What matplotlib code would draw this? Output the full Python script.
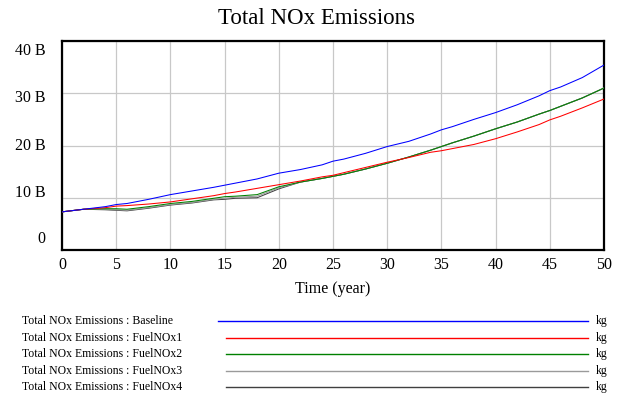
import matplotlib.pyplot as plt
from matplotlib.lines import Line2D
import numpy as np

plt.rcParams['font.family'] = ['Liberation Serif', 'DejaVu Serif']

years = [0, 2, 4, 5, 6, 8, 10, 12, 14, 15, 16, 18, 20, 22, 24, 25, 26, 28, 30,
         32, 34, 35, 36, 38, 40, 42, 44, 45, 46, 48, 50]

# Total NOx emissions, billions of kg
baseline = [7.3, 7.8, 8.3, 8.7, 8.9, 9.7, 10.6, 11.3, 12.0, 12.4, 12.8, 13.6, 14.7,
            15.4, 16.3, 17.0, 17.4, 18.5, 19.8, 20.8, 22.2, 23.0, 23.6, 25.0, 26.3,
            27.8, 29.5, 30.5, 31.2, 33.0, 35.4]
fuelnox1 = [7.3, 7.8, 8.1, 8.4, 8.5, 8.8, 9.2, 9.8, 10.4, 10.8, 11.1, 11.8, 12.5,
            13.2, 14.0, 14.3, 14.8, 15.8, 16.8, 17.7, 18.7, 19.0, 19.4, 20.2, 21.3,
            22.6, 24.0, 24.9, 25.6, 27.2, 28.9]
fuelnox2 = [7.3, 7.8, 7.9, 7.9, 7.8, 8.3, 8.9, 9.3, 9.9, 10.2, 10.3, 10.6, 12.1,
            13.0, 13.7, 14.1, 14.5, 15.5, 16.6, 17.8, 19.1, 19.8, 20.5, 21.8, 23.2,
            24.5, 26.0, 26.7, 27.5, 29.1, 31.0]
fuelnox3 = [7.3, 7.8, 7.8, 7.7, 7.6, 8.1, 8.7, 9.1, 9.7, 9.9, 10.1, 10.3, 11.9,
            13.0, 13.7, 14.1, 14.5, 15.5, 16.6, 17.8, 19.1, 19.8, 20.5, 21.8, 23.2,
            24.5, 26.0, 26.7, 27.5, 29.1, 31.0]
fuelnox4 = [7.3, 7.8, 7.7, 7.6, 7.5, 8.0, 8.6, 9.0, 9.6, 9.7, 9.9, 10.0, 11.7,
            13.0, 13.7, 14.1, 14.5, 15.5, 16.6, 17.8, 19.1, 19.8, 20.5, 21.8, 23.2,
            24.5, 26.0, 26.7, 27.5, 29.1, 31.0]

names = ['Baseline', 'FuelNOx1', 'FuelNOx2', 'FuelNOx3', 'FuelNOx4']
series = [baseline, fuelnox1, fuelnox2, fuelnox3, fuelnox4]
colors = ['#0000ff', '#ff0000', '#008000', '#9a9a9a', '#404040']

ytick_vals = [0, 10, 20, 30, 40]
ytick_labels = ['0', '10 B', '20 B', '30 B', '40 B']
ylabel_pos = [2.1, 10.9, 19.9, 29.0, 38.1]   # Vensim spreads the labels a bit

fig = plt.figure(figsize=(6.17, 3.96), dpi=100)
ax = fig.add_axes([62 / 617, 146 / 396, 542 / 617, 209 / 396])

# first series drawn on top
for i, (name, vals, c) in enumerate(zip(names, series, colors)):
    ax.plot(years, vals, color=c, lw=0.75, zorder=10 - i)

ax.set_xlim(0, 50)
ax.set_ylim(0, 40)
ax.set_xticks(range(0, 51, 5))
ax.set_yticks(ytick_vals)
ax.set_yticklabels([])
ax.tick_params(length=0, labelsize=11.5, pad=5)
ax.grid(True, color='#c8c8c8', lw=0.9)
ax.set_axisbelow(True)
for s in ax.spines.values():
    s.set_linewidth(1.6)
    s.set_color('black')

for lab, y in zip(ytick_labels, ylabel_pos):
    ax.text(-0.031, y, lab, transform=ax.get_yaxis_transform(), ha='right',
            va='center', fontsize=11.5)

ax.set_xlabel('Time (year)', fontsize=11.5, labelpad=6)
fig.text(316 / 617, 1 - 18 / 396, 'Total NOx Emissions', ha='center', va='center',
         fontsize=16.5)

# legend rows below the chart
row_y = [321, 338, 354, 371, 387]
for i, (name, c, y) in enumerate(zip(names, colors, row_y)):
    fy = 1 - y / 396
    fig.text(22 / 617, fy, 'Total NOx Emissions : ' + name, ha='left', va='center',
             fontsize=8.5)
    x0 = 218 if i == 0 else 226
    fig.add_artist(Line2D([x0 / 617, 588 / 617], [fy, fy], color=c, lw=1,
                          transform=fig.transFigure))
    fig.text(596 / 617, fy, 'kg', ha='left', va='center', fontsize=8.5)

fig.savefig('out.png', dpi=100)
